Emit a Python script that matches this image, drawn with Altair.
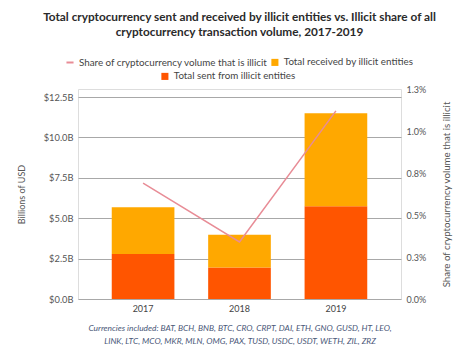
import altair as alt
import pandas as pd

years = ["2017", "2018", "2019"]
sent_bn = [2.78, 1.95, 5.74]
received_bn = [2.90, 2.03, 5.76]
illicit_share_pct = [0.69, 0.34, 1.12]

SHARE = "Share of cryptocurrency volume that is illicit"
RECV = "Total received by illicit entities"
SENT = "Total sent from illicit entities"

df = pd.DataFrame({
    "year": years,
    "sent": sent_bn,
    "received": received_bn,
    "share": illicit_share_pct,
})
df["total"] = df["sent"] + df["received"]
df["s_sent"] = SENT
df["s_recv"] = RECV
df["s_share"] = SHARE

FONT = "Lato"
footer = [
    "Currencies included: BAT, BCH, BNB, BTC, CRO, CRPT, DAI, ETH, GNO, GUSD, HT, LEO,",
    "LINK, LTC, MCO, MKR, MLN, OMG, PAX, TUSD, USDC, USDT, WETH, ZIL, ZRZ",
]

LEG = dict(title=None, orient="none", labelFontSize=9.8, labelColor="#444",
           labelFont=FONT, labelLimit=400, symbolSize=50)

x = alt.X(
    "year:N",
    scale=alt.Scale(paddingInner=0.35, paddingOuter=0.35),
    axis=alt.Axis(
        title=footer, labelAngle=0, ticks=False, domain=False,
        labelFontSize=9, labelColor="#444", labelPadding=5,
        titleFontStyle="italic", titleFontWeight="normal", titleFontSize=8.4,
        titleColor="#4a5778", titlePadding=10, titleLineHeight=13,
    ),
)

left_axis = alt.Axis(
    title="Billions of USD", values=[0, 2.5, 5, 7.5, 10, 12.5], tickCount=6,
    labelOverlap=False,
    labelExpr="'$' + format(datum.value, '.1f') + 'B'",
    grid=True, gridColor="#a8a8a8", gridWidth=1.2, domain=False, ticks=False,
    labelPadding=5, labelFontSize=9.3, labelColor="#555",
    titleFontWeight="normal", titleFontSize=9, titleColor="#555", titlePadding=17,
)

sent_bar = alt.Chart(df).mark_bar().encode(
    x=x,
    y=alt.Y("sent:Q", scale=alt.Scale(domain=[0, 12.5]), axis=left_axis),
    fill=alt.Fill("s_sent:N", scale=alt.Scale(domain=[SENT], range=["#ff5500"]),
                  legend=alt.Legend(legendX=82, legendY=-17.5, symbolType="square", **LEG)),
)

recv_bar = alt.Chart(df).mark_bar().encode(
    x=x,
    y=alt.Y("sent:Q"),
    y2="total:Q",
    color=alt.Color("s_recv:N", scale=alt.Scale(domain=[RECV], range=["#ffa800"]),
                    legend=alt.Legend(legendX=192, legendY=-31.5, symbolType="square", **LEG)),
)

line = alt.Chart(df).mark_line(strokeWidth=1.5).encode(
    x=x,
    y=alt.Y(
        "share:Q",
        scale=alt.Scale(domain=[0, 1.25]),
        axis=alt.Axis(
            orient="right", title=SHARE, values=[0, 0.25, 0.5, 0.75, 1.0, 1.25], tickCount=6,
            labelOverlap=False,
            labelExpr="format(datum.value, '.1f') + '%'",
            grid=False, domain=False, ticks=False,
            labelPadding=5, labelFontSize=9, labelColor="#555",
            titleFontWeight="normal", titleFontSize=9.7, titleColor="#555",
            titlePadding=26, titleAngle=270, titleLimit=400,
        ),
    ),
    stroke=alt.Stroke("s_share:N", scale=alt.Scale(domain=[SHARE], range=["#e88c96"]),
                      legend=alt.Legend(legendX=-13, legendY=-31.5, symbolType="stroke",
                                        symbolStrokeWidth=2, **LEG)),
)

bars = alt.layer(sent_bar, recv_bar)

chart = alt.layer(bars, line).resolve_scale(y="independent").properties(
    width=458,
    height=340,
    autosize=alt.AutoSizeParams(type="fit", contains="padding"),
    padding={"left": 9, "right": 14, "top": 4, "bottom": 3},
    title=alt.TitleParams(
        text=["Total cryptocurrency sent and received by illicit entities vs. Illicit share of all",
              "cryptocurrency transaction volume, 2017-2019"],
        fontSize=11.8, fontWeight="bold", color="#2a2a2a", anchor="middle", font=FONT,
        lineHeight=15, offset=46,
    ),
).configure_view(strokeWidth=0).configure_axis(
    labelFont=FONT, titleFont=FONT, domain=False
).configure(font=FONT)

chart.save("out.html", embed_options={"renderer": "svg", "actions": False})
